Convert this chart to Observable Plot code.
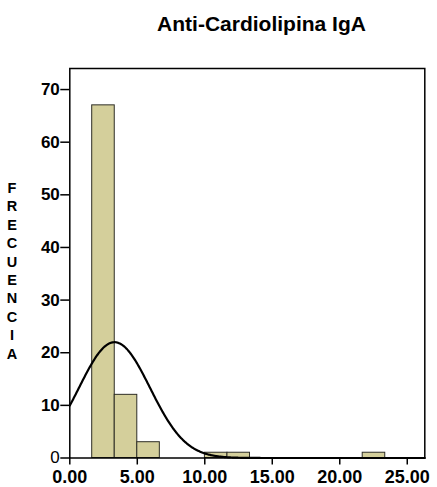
<!DOCTYPE html>
<html>
<head>
<meta charset="utf-8">
<script src="https://cdn.jsdelivr.net/npm/d3@7"></script>
<script src="https://cdn.jsdelivr.net/npm/@observablehq/plot@0.6"></script>
<style>
  html, body { margin: 0; padding: 0; background: #fff; }
  #chart { width: 437px; height: 487px; }
</style>
</head>
<body>
<div id="chart"></div>
<script>
// ---- Data ----
const chartTitle = "Anti-Cardiolipina IgA";
const yAxisLabel = "FRECUENCIA";
const binLow   = [1.66, 3.33, 5.00, 10.01, 11.68, 21.70];
const binHigh  = [3.33, 5.00, 6.67, 11.68, 13.35, 23.37];
const binCount = [67, 12, 3, 1, 1, 1];
const xTickValues = [0, 5, 10, 15, 20, 25];
const yTickValues = [0, 10, 20, 30, 40, 50, 60, 70];
// fitted normal curve overlay (SPSS-style)
const normalMean = 3.31;
const normalSd = 2.63;
const normalPeak = 22.0;
const xMax = 26.3;
const yMax = 74;

const bins = binLow.map((lo, i) => ({lo, hi: binHigh[i], count: binCount[i]}));
const curve = d3.range(0, xMax + 0.001, 0.05).map(x => ({
  x, y: normalPeak * Math.exp(-((x - normalMean) ** 2) / (2 * normalSd ** 2))
}));

const font = "'Liberation Sans', Arial, Helvetica, sans-serif";

const svg = Plot.plot({
  width: 437,
  height: 487,
  marginLeft: 69.3,
  marginRight: 12.7,
  marginTop: 68,
  marginBottom: 29.5,
  x: {domain: [0, xMax]},
  y: {domain: [0, yMax]},
  style: {fontFamily: font, fontSize: "17px", color: "black", background: "white"},
  marks: [
    Plot.rectY(bins, {x1: "lo", x2: "hi", y: "count", fill: "#d4cf9b", stroke: "#2e2e26", strokeWidth: 1}),
    Plot.line(curve, {x: "x", y: "y", stroke: "black", strokeWidth: 2.2}),
    Plot.frame({stroke: "black", strokeWidth: 1.5}),
    Plot.axisX({ticks: xTickValues, tickFormat: d3.format(".2f"), tickSize: 7, tickPadding: 5,
      fontSize: 18, fontWeight: "bold", label: null, strokeWidth: 1.5}),
    Plot.axisY({ticks: yTickValues.filter(d => d !== 0), tickSize: 9, tickPadding: 1,
      fontSize: 17, fontWeight: "bold", label: null, strokeWidth: 1.5}),
    Plot.axisY({ticks: yTickValues.filter(d => d === 0), tickSize: 9, tickPadding: 1,
      fontSize: 17, fontWeight: "normal", label: null, strokeWidth: 1.5})
  ]
});

const s = d3.select(svg);
s.append("text")
  .attr("x", 261.5).attr("y", 30.5)
  .attr("text-anchor", "middle")
  .style("font-family", font).style("font-size", "21px").style("font-weight", "bold")
  .attr("fill", "black")
  .text(chartTitle);

yAxisLabel.split("").forEach((ch, i) => {
  s.append("text")
    .attr("x", 12).attr("y", 188 + i * 18.4)
    .attr("dy", "0.35em")
    .style("font-family", font).style("font-size", "14.5px").style("font-weight", "bold")
    .attr("fill", "black")
    .text(ch);
});

document.getElementById("chart").appendChild(svg);
</script>
</body>
</html>
